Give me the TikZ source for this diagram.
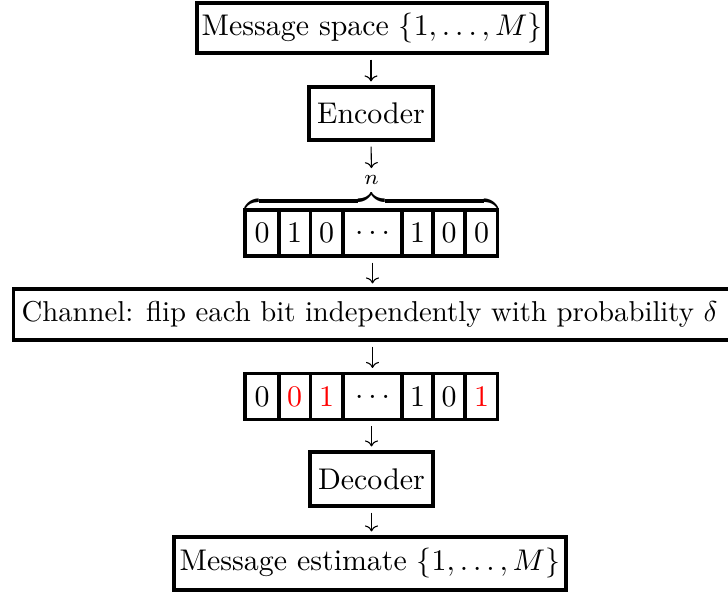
\documentclass[tikz,border=0pt]{standalone}
\usepackage{graphicx}
\usetikzlibrary{arrows.meta}
\newcommand{\bigtxt}[1]{\scalebox{3}{#1}}
\begin{document}
\begin{tikzpicture}[x=1bp,y=-1bp,
  box/.style={draw, line width=3.1bp, inner sep=0pt, minimum height=52bp},
  cell/.style={draw, line width=3.1bp, inner sep=0pt, minimum height=46bp, minimum width=32bp},
  wcell/.style={cell, minimum width=59bp},
  flow/.style={line width=1.1bp, -{To[length=6bp,width=13bp]}, shorten <=5bp, shorten >=4bp},
  flipped/.style={text=red}]
\useasboundingbox (0,0) rectangle (728,592);
\node[box, minimum width=350bp, minimum height=50bp] (msg) at (372,28) {\bigtxt{Message space $\{1,\ldots,M\}$}};
\node[box, minimum width=124bp, minimum height=53bp] (enc) at (371,113.5) {\bigtxt{Encoder}};
% first code word
\node[cell, minimum width=34bp] (a1) at (262,233) {\bigtxt{0}};
\node[cell] (a2) at (294.5,233) {\bigtxt{1}};
\node[cell] (a3) at (326.5,233) {\bigtxt{0}};
\node[wcell] (a4) at (372.5,233) {\bigtxt{$\ldots$}};
\node[cell] (a5) at (417.5,233) {\bigtxt{1}};
\node[cell] (a6) at (449,233) {\bigtxt{0}};
\node[cell] (a7) at (481.5,233) {\bigtxt{0}};
\node[inner sep=0pt, anchor=south] (br) at (371.5,212) {\bigtxt{$\overbrace{\hspace{84bp}}^{n}$}};
\node[box, anchor=west, inner xsep=8.5bp, minimum height=51bp] (chan) at (11.5,314.5) {\scalebox{2.885}{Channel: flip each bit independently with probability $\delta$}\hspace*{20bp}};
% received word
\node[cell, minimum width=34bp] (b1) at (262,396.5) {\bigtxt{0}};
\node[cell, flipped] (b2) at (294.5,396.5) {\bigtxt{0}};
\node[cell, flipped] (b3) at (326.5,396.5) {\bigtxt{1}};
\node[wcell] (b4) at (372.5,396.5) {\bigtxt{$\ldots$}};
\node[cell] (b5) at (417.5,396.5) {\bigtxt{1}};
\node[cell] (b6) at (449,396.5) {\bigtxt{0}};
\node[cell, flipped] (b7) at (481.5,396.5) {\bigtxt{1}};
\node[box, minimum width=123bp, minimum height=54bp] (dec) at (371.5,479) {\bigtxt{Decoder}};
\node[box, minimum width=392bp, minimum height=53bp] (est) at (370,563.5) {\bigtxt{Message estimate $\{1,\ldots,M\}$}};
% connectors
\draw[flow] (msg.south -| enc.north) -- (enc.north);
\draw[flow] (enc.south) -- (br.north);
\draw[flow] (a4.south) -- (a4.south |- chan.north);
\draw[flow] (a4.south |- chan.south) -- (b4.north);
\draw[flow] (b4.south -| dec.north) -- (dec.north);
\draw[flow] (dec.south) -- (est.north -| dec.south);
\end{tikzpicture}
\end{document}
